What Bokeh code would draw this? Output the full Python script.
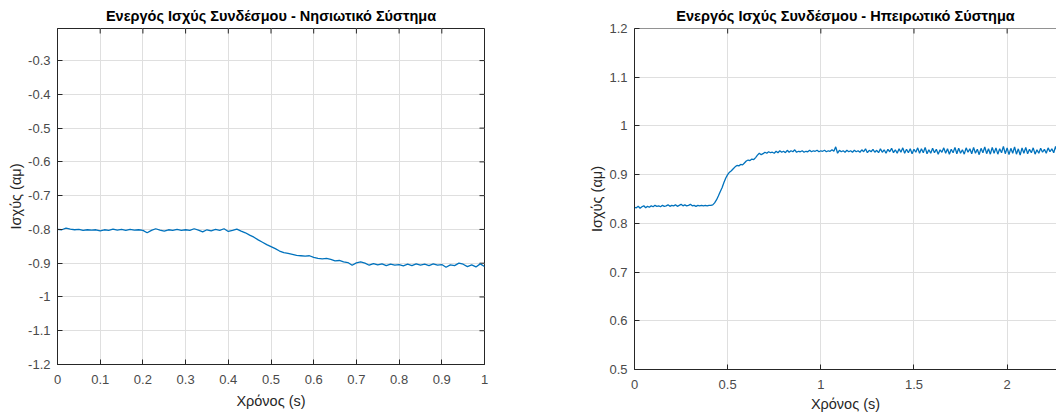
from bokeh.plotting import figure
from bokeh.models import FixedTicker, NumeralTickFormatter, Span
from bokeh.layouts import row, column
from bokeh.embed import file_html
from bokeh.resources import INLINE

left_title = "Ενεργός Ισχύς Συνδέσμου - Νησιωτικό Σύστημα"
right_title = "Ενεργός Ισχύς Συνδέσμου - Ηπειρωτικό Σύστημα"
x_label = "Χρόνος (s)"
y_label = "Ισχύς (αμ)"

left_x_ticks = [0, 0.1, 0.2, 0.3, 0.4, 0.5, 0.6, 0.7, 0.8, 0.9, 1]
left_y_ticks = [-1.2, -1.1, -1.0, -0.9, -0.8, -0.7, -0.6, -0.5, -0.4, -0.3]
right_x_ticks = [0, 0.5, 1, 1.5, 2]
right_y_ticks = [0.5, 0.6, 0.7, 0.8, 0.9, 1.0, 1.1, 1.2]

# sample times (s)
left_time = [round(0.01 * i, 2) for i in range(101)]
right_time = [round(0.01 * i, 2) for i in range(231)]

left_power = [
    -0.800, -0.801, -0.796, -0.799, -0.801, -0.800, -0.803, -0.801, -0.802, -0.801,
    -0.804, -0.801, -0.803, -0.799, -0.802, -0.800, -0.803, -0.800, -0.802, -0.801,
    -0.803, -0.810, -0.803, -0.798, -0.802, -0.805, -0.801, -0.803, -0.800, -0.803,
    -0.801, -0.803, -0.798, -0.802, -0.807, -0.801, -0.804, -0.800, -0.803, -0.798,
    -0.806, -0.803, -0.799, -0.805, -0.810, -0.817, -0.823, -0.831, -0.838, -0.845,
    -0.851, -0.857, -0.864, -0.869, -0.871, -0.874, -0.877, -0.878, -0.879, -0.878,
    -0.883, -0.886, -0.887, -0.886, -0.889, -0.893, -0.892, -0.896, -0.898, -0.906,
    -0.899, -0.896, -0.900, -0.906, -0.901, -0.905, -0.902, -0.907, -0.903, -0.906,
    -0.904, -0.908, -0.903, -0.907, -0.902, -0.906, -0.903, -0.907, -0.902, -0.906,
    -0.904, -0.912, -0.905, -0.907, -0.900, -0.903, -0.910, -0.905, -0.911, -0.902,
    -0.910,
]

right_power = [
    0.833, 0.832, 0.835, 0.831, 0.834, 0.836, 0.832, 0.835, 0.833, 0.836,
    0.834, 0.837, 0.835, 0.836, 0.834, 0.837, 0.835, 0.836, 0.838, 0.835,
    0.837, 0.836, 0.838, 0.835, 0.837, 0.839, 0.836, 0.838, 0.836, 0.837,
    0.839, 0.836, 0.837, 0.835, 0.837, 0.836, 0.837, 0.836, 0.837, 0.836,
    0.837, 0.837, 0.838, 0.842, 0.848, 0.856, 0.865, 0.873, 0.884, 0.893,
    0.900, 0.905, 0.908, 0.912, 0.916, 0.919, 0.918, 0.921, 0.920, 0.924,
    0.928, 0.930, 0.929, 0.932, 0.931, 0.935, 0.940, 0.944, 0.941, 0.943,
    0.946, 0.944, 0.947, 0.945, 0.946, 0.944, 0.948, 0.945, 0.949, 0.946,
    0.948, 0.945, 0.950, 0.946, 0.949, 0.947, 0.951, 0.946, 0.948, 0.947,
    0.949, 0.946, 0.948, 0.947, 0.950, 0.947, 0.949, 0.948, 0.950, 0.947,
    0.949, 0.948, 0.950, 0.947, 0.949, 0.948, 0.951, 0.948, 0.957, 0.944,
    0.950, 0.947, 0.949, 0.946, 0.950, 0.947, 0.949, 0.946, 0.950, 0.947,
    0.949, 0.946, 0.951, 0.947, 0.953, 0.945, 0.950, 0.947, 0.952, 0.946,
    0.950, 0.945, 0.953, 0.946, 0.951, 0.944, 0.952, 0.947, 0.954, 0.945,
    0.951, 0.944, 0.953, 0.946, 0.955, 0.944, 0.952, 0.945, 0.953, 0.943,
    0.952, 0.946, 0.955, 0.944, 0.953, 0.945, 0.956, 0.943, 0.951, 0.944,
    0.954, 0.945, 0.952, 0.942, 0.951, 0.946, 0.955, 0.944, 0.953, 0.942,
    0.952, 0.945, 0.956, 0.943, 0.954, 0.944, 0.951, 0.942, 0.955, 0.946,
    0.953, 0.943, 0.956, 0.944, 0.952, 0.941, 0.954, 0.945, 0.957, 0.943,
    0.953, 0.942, 0.956, 0.944, 0.955, 0.942, 0.953, 0.945, 0.958, 0.943,
    0.955, 0.941, 0.954, 0.944, 0.957, 0.942, 0.953, 0.940, 0.955, 0.944,
    0.956, 0.943, 0.952, 0.945, 0.955, 0.942, 0.951, 0.944, 0.954, 0.946,
    0.952, 0.944, 0.955, 0.947, 0.953, 0.945, 0.958, 0.946, 0.953, 0.947,
    0.951,
]

FONT = "Liberation Sans"
DARK = "#262626"
TICKTXT = "#4a4a4a"
GRID = "#dfdfdf"
BLUE = "#0072BD"
FIG_H = 416
TICK_PX = 5


def style_axis(ax):
    ax.major_tick_in = TICK_PX
    ax.major_tick_out = 0
    ax.minor_tick_line_color = None
    ax.axis_line_color = DARK
    ax.major_tick_line_color = DARK
    ax.major_label_text_font = FONT
    ax.major_label_text_color = TICKTXT
    ax.major_label_text_font_size = "13px"
    ax.axis_label_text_font = FONT
    ax.axis_label_text_font_style = "normal"
    ax.axis_label_text_font_size = "14.5px"
    ax.axis_label_text_color = DARK
    ax.formatter = NumeralTickFormatter(format="0.[0]")


def make_fig(title, xr, yr, xt, yt, width, mbl, mbr, mbt, mbb, full_box,
             x_std, x_lab_std):
    p = figure(width=width, height=FIG_H, x_range=xr, y_range=yr,
               output_backend="svg", toolbar_location=None,
               min_border_left=mbl, min_border_right=mbr,
               min_border_top=mbt, min_border_bottom=mbb)
    p.title.text = title
    p.title.text_font = FONT
    p.title.text_font_size = "14.5px"
    p.title.text_font_style = "bold"
    p.title.text_color = "#000000"
    p.title.align = "center"
    p.title.standoff = 10
    p.background_fill_color = "white"
    p.border_fill_color = "white"
    if full_box:
        p.outline_line_color = DARK
        p.outline_line_width = 1
    else:
        p.outline_line_color = None
        p.add_layout(Span(location=yr[1], dimension="width",
                          line_color=DARK, line_width=1))

    p.xaxis.ticker = FixedTicker(ticks=xt)
    p.yaxis.ticker = FixedTicker(ticks=yt)
    p.xaxis.axis_label = x_label
    p.yaxis.axis_label = y_label
    for ax in p.xaxis:
        style_axis(ax)
        ax.major_label_standoff = x_std
        ax.axis_label_standoff = x_lab_std
    for ax in p.yaxis:
        style_axis(ax)
        ax.major_label_standoff = 7
        ax.axis_label_standoff = 1

    p.xgrid.grid_line_color = GRID
    p.ygrid.grid_line_color = GRID
    p.xgrid.ticker = FixedTicker(ticks=xt)
    p.ygrid.ticker = FixedTicker(ticks=yt)

    # inward tick marks on the top (and right) edges, as in a boxed MATLAB axes
    frame_w = width - mbl - mbr
    frame_h = FIG_H - mbt - mbb
    dy = (yr[1] - yr[0]) * TICK_PX / frame_h
    dx = (xr[1] - xr[0]) * TICK_PX / frame_w
    p.segment(x0=xt, y0=[yr[1]] * len(xt), x1=xt, y1=[yr[1] - dy] * len(xt),
              line_color=DARK, line_width=1)
    if full_box:
        p.segment(x0=[xr[1]] * len(yt), y0=yt, x1=[xr[1] - dx] * len(yt), y1=yt,
                  line_color=DARK, line_width=1)
    return p


p1 = make_fig(left_title, (0, 1), (-1.2, -0.205), left_x_ticks, left_y_ticks,
              568, 57, 84, 28, FIG_H - 364, True, 10, 6)
p1.line(left_time, left_power, line_color=BLUE, line_width=1.3)

p2 = make_fig(right_title, (0, 2.265), (0.5, 1.2), right_x_ticks, right_y_ticks,
              488, 66, 0, 28, FIG_H - 369, False, 10, 4)
p2.line(right_time, right_power, line_color=BLUE, line_width=1.3)

layout = row(column(p1), column(p2))
layout.spacing = 0

open("out.html", "w").write(file_html(layout, INLINE))
